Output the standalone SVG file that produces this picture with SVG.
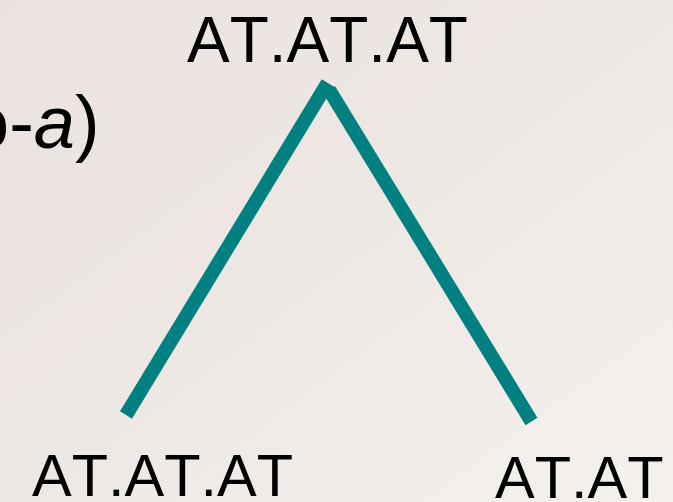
<svg xmlns="http://www.w3.org/2000/svg" width="673" height="502" viewBox="0 0 673 502">
  <defs>
    <linearGradient id="bg" x1="0" y1="0" x2="1" y2="1">
      <stop offset="0" stop-color="#EAE2DF"/>
      <stop offset="0.5" stop-color="#EEE8E5"/>
      <stop offset="1" stop-color="#F4F1ED"/>
    </linearGradient>
  </defs>
  <style>
    .lbl { font-family: "Liberation Sans", Arial, sans-serif; fill: #000000; font-kerning: none; }
    .edge { stroke: #008080; stroke-width: 14; stroke-linecap: butt; fill: none; }
  </style>
  <rect x="0" y="0" width="673" height="502" fill="url(#bg)"/>
  <g id="connectors">
    <line class="edge" x1="126" y1="415" x2="327.7" y2="82.9"/>
    <line class="edge" x1="329" y1="89.6" x2="531.5" y2="421.5"/>
  </g>
  <g id="node-top">
    <text class="lbl" x="187" y="62" font-size="64">AT.AT.AT</text>
  </g>
  <g id="node-left-label">
    <text class="lbl" x="-32" y="148" font-size="74">o-<tspan font-style="italic">a</tspan>)</text>
  </g>
  <g id="node-bottom-left">
    <text class="lbl" x="32" y="496" font-size="59.5">AT.AT.AT</text>
  </g>
  <g id="node-bottom-right">
    <text class="lbl" x="495" y="498" font-size="59.5">AT.AT</text>
  </g>
</svg>
